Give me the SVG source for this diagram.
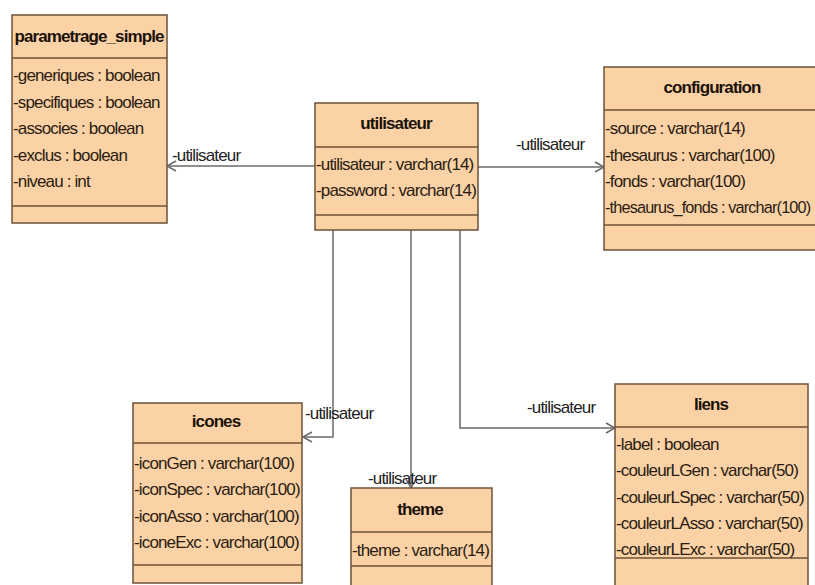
<svg xmlns="http://www.w3.org/2000/svg" width="815" height="585" viewBox="0 0 815 585">
<style>
.box{fill:#fbd2a6;stroke:#6e5236;stroke-width:1.5}
.sep{stroke:#6e5236;stroke-width:1.5}
.t{font-family:"Liberation Sans",Arial,sans-serif;font-size:17px;font-weight:bold;fill:#1a1208;text-anchor:middle;letter-spacing:-0.9px}
.a{font-family:"Liberation Sans",Arial,sans-serif;font-size:17px;fill:#2a1c10;letter-spacing:-0.85px}
.c{fill:none;stroke:#6a6a6a;stroke-width:1.5}
.l{font-family:"Liberation Sans",Arial,sans-serif;font-size:17px;fill:#222;letter-spacing:-0.85px}
</style>
<defs>
<marker id="arr" markerWidth="12" markerHeight="12" refX="10" refY="6" orient="auto" markerUnits="userSpaceOnUse">
<path d="M1,1 L10,6 L1,11" fill="none" stroke="#6a6a6a" stroke-width="1.5"/>
</marker>
</defs>
<rect width="815" height="585" fill="#ffffff"/>
<g id="connectors">
<line class="c" x1="315" y1="166" x2="167" y2="166" marker-end="url(#arr)"/>
<text class="l" x="172" y="161">-utilisateur</text>
<line class="c" x1="478" y1="167" x2="604" y2="167" marker-end="url(#arr)"/>
<text class="l" x="516" y="150">-utilisateur</text>
<polyline class="c" points="333,230 333,437 303,437" marker-end="url(#arr)"/>
<text class="l" x="305" y="419">-utilisateur</text>
<line class="c" x1="411" y1="230" x2="411" y2="488" marker-end="url(#arr)"/>
<text class="l" x="368" y="484">-utilisateur</text>
<polyline class="c" points="460,230 460,428 615,428" marker-end="url(#arr)"/>
<text class="l" x="527" y="413">-utilisateur</text>
</g>
<g id="parametrage_simple">
<rect class="box" x="12" y="15" width="155" height="208"/>
<line class="sep" x1="12" y1="58" x2="167" y2="58"/>
<line class="sep" x1="12" y1="206" x2="167" y2="206"/>
<text class="t" x="89" y="42">parametrage_simple</text>
<text class="a" x="13" y="81">-generiques : boolean</text>
<text class="a" x="13" y="108">-specifiques : boolean</text>
<text class="a" x="13" y="134">-associes : boolean</text>
<text class="a" x="13" y="161">-exclus : boolean</text>
<text class="a" x="13" y="187">-niveau : int</text>
</g>
<g id="utilisateur">
<rect class="box" x="315" y="103" width="163" height="127"/>
<line class="sep" x1="315" y1="147" x2="478" y2="147"/>
<line class="sep" x1="315" y1="215" x2="478" y2="215"/>
<text class="t" x="396" y="129">utilisateur</text>
<text class="a" x="316" y="170">-utilisateur : varchar(14)</text>
<text class="a" x="316" y="196">-password : varchar(14)</text>
</g>
<g id="configuration">
<rect class="box" x="604" y="67" width="220" height="183"/>
<line class="sep" x1="604" y1="110" x2="824" y2="110"/>
<line class="sep" x1="604" y1="225" x2="824" y2="225"/>
<text class="t" x="712" y="93">configuration</text>
<text class="a" x="605" y="134">-source : varchar(14)</text>
<text class="a" x="605" y="161">-thesaurus : varchar(100)</text>
<text class="a" x="605" y="187">-fonds : varchar(100)</text>
<text class="a" x="605" y="213" style="font-size:16.3px">-thesaurus_fonds : varchar(100)</text>
</g>
<g id="icones">
<rect class="box" x="133" y="403" width="169" height="180"/>
<line class="sep" x1="133" y1="443" x2="302" y2="443"/>
<line class="sep" x1="133" y1="565" x2="302" y2="565"/>
<text class="t" x="216" y="427">icones</text>
<text class="a" x="134" y="469">-iconGen : varchar(100)</text>
<text class="a" x="134" y="495">-iconSpec : varchar(100)</text>
<text class="a" x="134" y="522">-iconAsso : varchar(100)</text>
<text class="a" x="134" y="548">-iconeExc : varchar(100)</text>
</g>
<g id="theme">
<rect class="box" x="351" y="488" width="141" height="110"/>
<line class="sep" x1="351" y1="532" x2="492" y2="532"/>
<line class="sep" x1="351" y1="566" x2="492" y2="566"/>
<text class="t" x="420" y="515">theme</text>
<text class="a" x="352" y="556">-theme : varchar(14)</text>
</g>
<g id="liens">
<rect class="box" x="615" y="384" width="193" height="210"/>
<line class="sep" x1="615" y1="427" x2="808" y2="427"/>
<line class="sep" x1="615" y1="558" x2="808" y2="558"/>
<text class="t" x="711" y="410">liens</text>
<text class="a" x="616" y="450">-label : boolean</text>
<text class="a" x="616" y="476">-couleurLGen : varchar(50)</text>
<text class="a" x="616" y="503">-couleurLSpec : varchar(50)</text>
<text class="a" x="616" y="529">-couleurLAsso : varchar(50)</text>
<text class="a" x="616" y="555">-couleurLExc : varchar(50)</text>
</g>
</svg>
